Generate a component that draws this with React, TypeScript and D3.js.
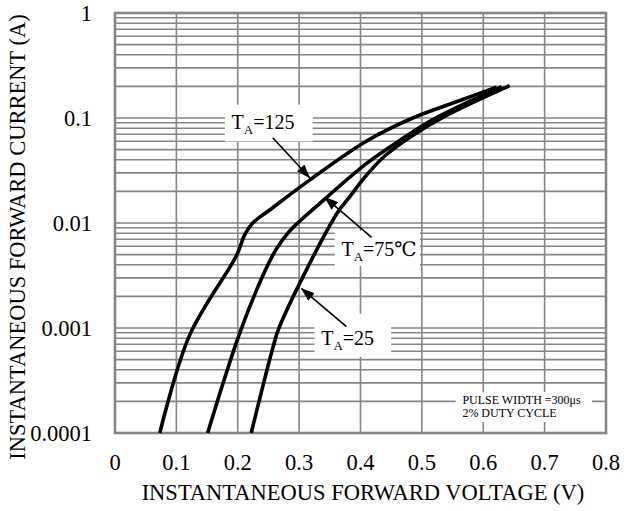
import React from "react";
import * as d3 from "d3";

// forward voltage (V) / current (A)
const v125 = [0.073, 0.1216, 0.198, 0.2112, 0.2243, 0.252, 0.317, 0.41, 0.485, 0.5665, 0.6215];
const i125 = [1e-4, 8.55e-4, 4.9e-3, 7.7e-3, 0.01, 0.0133, 0.0256, 0.0603, 0.1, 0.15, 0.197];

const v75 = [0.151, 0.203, 0.241, 0.263, 0.2846, 0.336, 0.41, 0.464, 0.518, 0.63];
const i75 = [1e-4, 8.87e-4, 3.16e-3, 5.67e-3, 8.4e-3, 0.0158, 0.037, 0.0612, 0.0968, 0.199];

const v25 = [0.222, 0.257, 0.268, 0.361, 0.382, 0.407, 0.439, 0.48, 0.54, 0.643];
const i25 = [1e-4, 6.4e-4, 1.03e-3, 0.0122, 0.0176, 0.0273, 0.0432, 0.0653, 0.1056, 0.203];

const xTicks = [0, 0.1, 0.2, 0.3, 0.4, 0.5, 0.6, 0.7, 0.8];
const yTicks = [1, 0.1, 0.01, 0.001, 0.0001];
const yTickLabels = ["1", "0.1", "0.01", "0.001", "0.0001"];

// labels: text anchor, white box behind, arrow (all in data units)
const labels = [
  { sub: "A", rest: "=125", tv: 0.19, ti: 0.0778, box: [0.179, 0.322, 0.134, 0.0599], arrow: [0.257, 0.0649, 0.317, 0.0271] },
  { sub: "A", rest: "=75℃", tv: 0.369, ti: 0.0049, box: [0.358, 0.497, 0.0084, 0.0039], arrow: [0.418, 0.0073, 0.342, 0.0175] },
  { sub: "A", rest: "=25", tv: 0.336, ti: 6.9e-4, box: [0.325, 0.45, 1.37e-3, 5.3e-4], arrow: [0.377, 1.03e-3, 0.304, 2.37e-3] },
];

const W = 624;
const H = 511;
const margin = { top: 13, right: 18, bottom: 76, left: 115 };
const font = '"Liberation Serif", "DejaVu Serif", "Noto Serif", serif';

const App = () => {
  const x = d3.scaleLinear().domain([0, 0.8]).range([margin.left, W - margin.right]);
  const y = d3.scaleLog().domain([1e-4, 1]).range([H - margin.bottom - 2, margin.top]);

  const yGrid: number[] = [];
  for (let e = -4; e < 0; e++) {
    for (let k = 1; k <= 9; k++) yGrid.push(k * Math.pow(10, e));
  }

  const line = d3
    .line<[number, number]>()
    .x((d) => x(d[0]))
    .y((d) => y(d[1]))
    .curve(d3.curveCatmullRom.alpha(0.5));

  const series = [
    d3.zip(v125, i125) as [number, number][],
    d3.zip(v75, i75) as [number, number][],
    d3.zip(v25, i25) as [number, number][],
  ];

  const x0 = x(0), x1 = x(0.8), y0 = y(1e-4), y1 = y(1);
  const gridColor = "#858585";
  const ts = { fontFamily: font };

  return (
    <svg width={W} height={H} style={{ position: "absolute", left: 0, top: 0, background: "#fff", fontFamily: font }}>
      <defs>
        <marker id="ah" markerUnits="userSpaceOnUse" markerWidth={14} markerHeight={10} refX={13} refY={5} orient="auto">
          <path d="M0,0 L14,5 L0,10 z" fill="#000" />
        </marker>
      </defs>

      {/* grid */}
      <g stroke={gridColor} strokeWidth={1.6}>
        {yGrid.map((v, idx) => (
          <line key={"h" + idx} x1={x0} x2={x1} y1={y(v)} y2={y(v)} />
        ))}
        {xTicks.map((v, idx) => (
          <line key={"v" + idx} x1={x(v)} x2={x(v)} y1={y0} y2={y1} />
        ))}
      </g>
      <rect x={x0} y={y1} width={x1 - x0} height={y0 - y1} fill="none" stroke={gridColor} strokeWidth={2.6} />

      {/* white boxes behind labels */}
      {labels.map((l, idx) => (
        <rect
          key={"b" + idx}
          x={x(l.box[0])}
          y={y(l.box[2])}
          width={x(l.box[1]) - x(l.box[0])}
          height={y(l.box[3]) - y(l.box[2])}
          fill="#fff"
        />
      ))}
      <rect x={x(0.555)} y={y(2.45e-4)} width={x(0.777) - x(0.555)} height={y(1.27e-4) - y(2.45e-4)} fill="#fff" />

      {/* curves */}
      {series.map((s, idx) => (
        <path key={"c" + idx} d={line(s) || ""} fill="none" stroke="#000" strokeWidth={3.6} strokeLinejoin="round" />
      ))}

      {/* labels + arrows */}
      {labels.map((l, idx) => (
        <g key={"l" + idx}>
          <text x={x(l.tv)} y={y(l.ti)} fontSize={20} fill="#000" style={ts}>
            <tspan>T</tspan>
            <tspan fontSize={13} dy={5}>{l.sub}</tspan>
            <tspan dy={-5}>{l.rest}</tspan>
          </text>
          <line
            x1={x(l.arrow[0])}
            y1={y(l.arrow[1])}
            x2={x(l.arrow[2])}
            y2={y(l.arrow[3])}
            stroke="#000"
            strokeWidth={1.6}
            markerEnd="url(#ah)"
          />
        </g>
      ))}

      <text x={x(0.566)} y={y(1.95e-4) + 1} fontSize={12} fill="#000" style={ts}>PULSE WIDTH =300μs</text>
      <text x={x(0.566)} y={y(1.95e-4) + 14} fontSize={12} fill="#000" style={ts}>2% DUTY CYCLE</text>

      {/* axes labels */}
      {xTicks.map((v, idx) => (
        <text key={"xt" + idx} x={x(v)} y={470} textAnchor="middle" fontSize={22.5} fill="#000" style={ts}>
          {v === 0 ? "0" : d3.format(".1f")(v)}
        </text>
      ))}
      {yTicks.map((v, idx) => (
        <text key={"yt" + idx} x={92} y={y(v)} dy="0.35em" textAnchor="end" fontSize={22.5} fill="#000" style={ts}>
          {yTickLabels[idx]}
        </text>
      ))}
      <text x={363} y={500} textAnchor="middle" fontSize={22.5} fill="#000" style={ts}>
        INSTANTANEOUS FORWARD VOLTAGE (V)
      </text>
      <text transform="translate(25,237) rotate(-90)" textAnchor="middle" fontSize={22.5} fill="#000" style={ts}>
        INSTANTANEOUS FORWARD CURRENT (A)
      </text>
    </svg>
  );
};

export default App;
